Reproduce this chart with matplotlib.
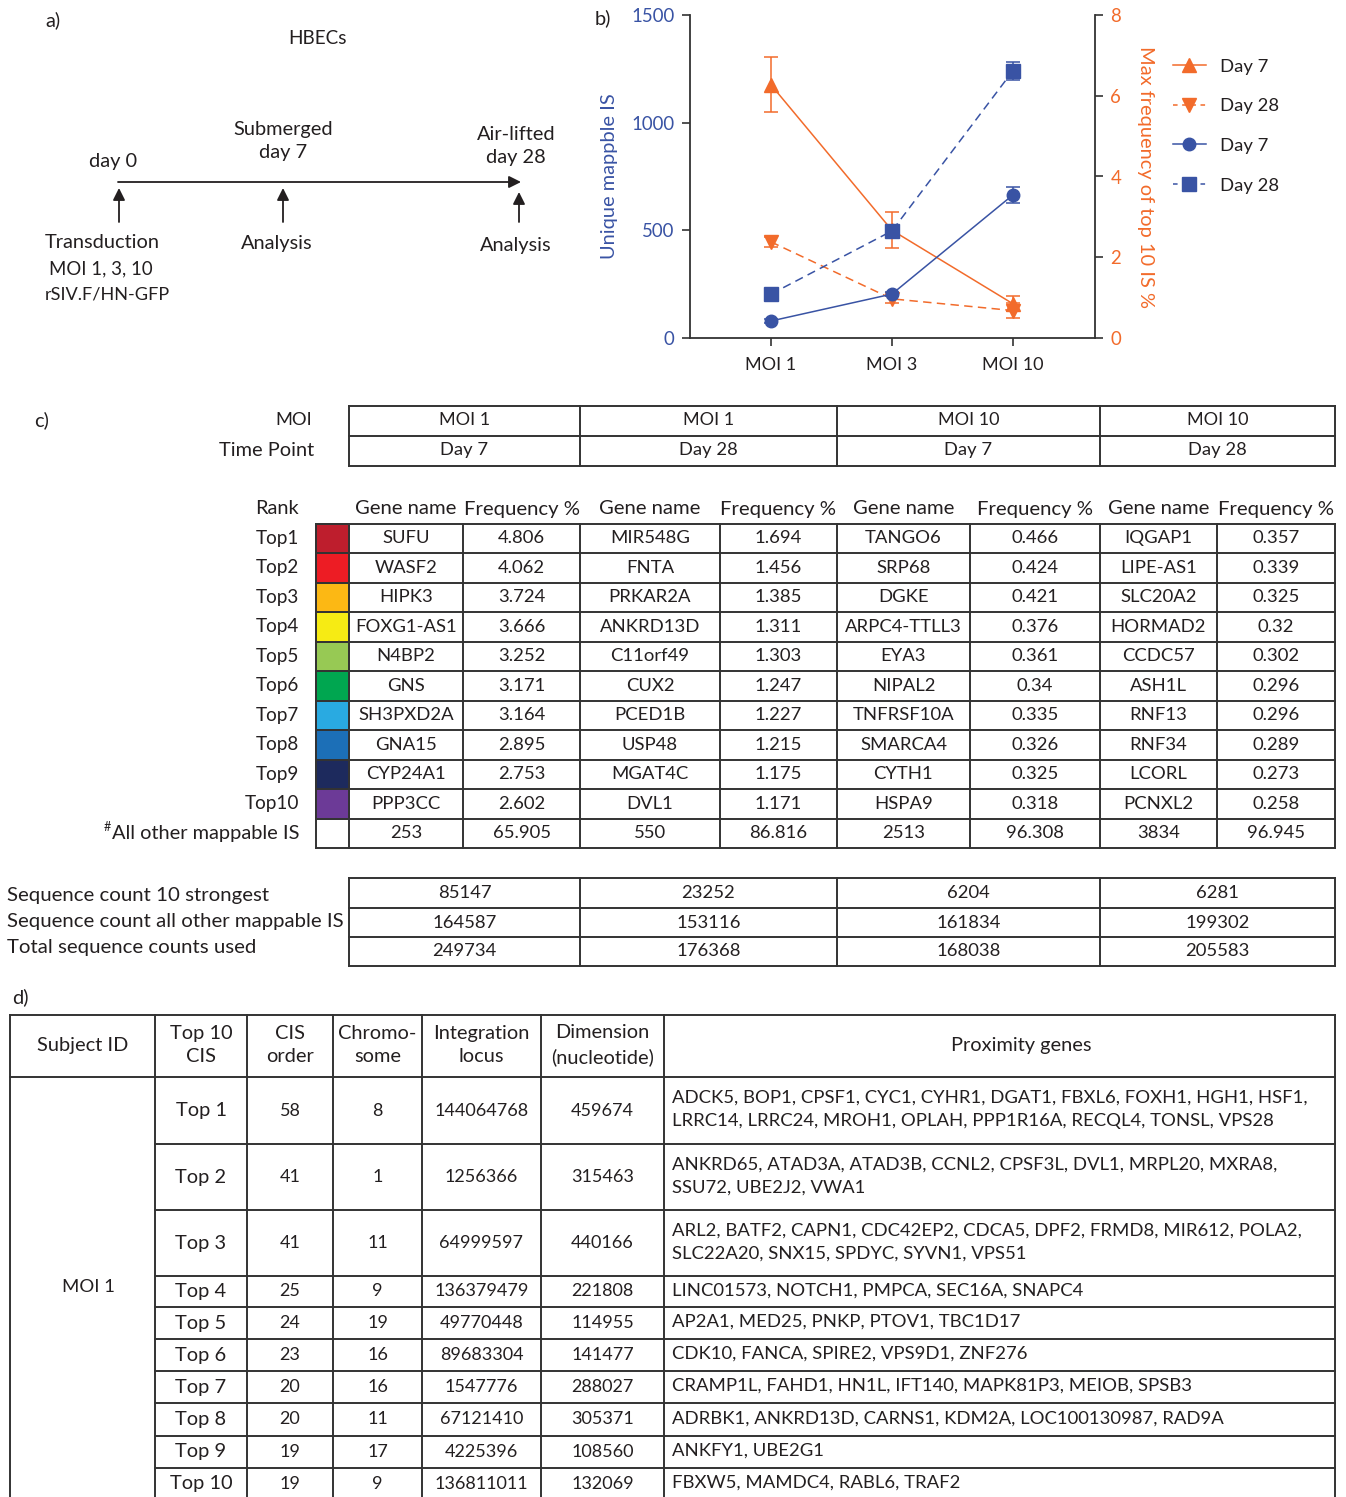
import matplotlib
matplotlib.use("Agg")
import matplotlib.pyplot as plt
from matplotlib.lines import Line2D
import numpy as np

plt.rcParams['font.family'] = ['Lato', 'DejaVu Sans']

# ---------------- data: panel b ----------------
moi_labels = ["MOI 1", "MOI 3", "MOI 10"]
unique_day7 = [79, 204, 664]
unique_day7_err = [8, 10, 35]
unique_day28 = [204, 497, 1240]
unique_day28_err = [10, 12, 40]
maxfreq_day7 = [6.27, 2.67, 0.85]
maxfreq_day7_err = [0.68, 0.45, 0.19]
maxfreq_day28 = [2.38, 0.97, 0.68]
maxfreq_day28_err = [0.12, 0.10, 0.18]
legend_labels = ["Day 7", "Day 28", "Day 7", "Day 28"]

# ---------------- data: panel c ----------------
c_moi = ["MOI 1", "MOI 1", "MOI 10", "MOI 10"]
c_time = ["Day 7", "Day 28", "Day 7", "Day 28"]
ranks = ["Top1", "Top2", "Top3", "Top4", "Top5", "Top6", "Top7", "Top8", "Top9", "Top10"]
rank_colors = ["#be1e2d", "#ed1c24", "#fcb814", "#f6eb14", "#97c954", "#00a650",
               "#29aae1", "#1c6fb7", "#1d2a5d", "#6c3a97"]
genes_moi1_d7 = ["SUFU", "WASF2", "HIPK3", "FOXG1-AS1", "N4BP2", "GNS", "SH3PXD2A", "GNA15", "CYP24A1", "PPP3CC", "253"]
freq_moi1_d7 = ["4.806", "4.062", "3.724", "3.666", "3.252", "3.171", "3.164", "2.895", "2.753", "2.602", "65.905"]
genes_moi1_d28 = ["MIR548G", "FNTA", "PRKAR2A", "ANKRD13D", "C11orf49", "CUX2", "PCED1B", "USP48", "MGAT4C", "DVL1", "550"]
freq_moi1_d28 = ["1.694", "1.456", "1.385", "1.311", "1.303", "1.247", "1.227", "1.215", "1.175", "1.171", "86.816"]
genes_moi10_d7 = ["TANGO6", "SRP68", "DGKE", "ARPC4-TTLL3", "EYA3", "NIPAL2", "TNFRSF10A", "SMARCA4", "CYTH1", "HSPA9", "2513"]
freq_moi10_d7 = ["0.466", "0.424", "0.421", "0.376", "0.361", "0.34", "0.335", "0.326", "0.325", "0.318", "96.308"]
genes_moi10_d28 = ["IQGAP1", "LIPE-AS1", "SLC20A2", "HORMAD2", "CCDC57", "ASH1L", "RNF13", "RNF34", "LCORL", "PCNXL2", "3834"]
freq_moi10_d28 = ["0.357", "0.339", "0.325", "0.32", "0.302", "0.296", "0.296", "0.289", "0.273", "0.258", "96.945"]
seq_labels = ["Sequence count 10 strongest", "Sequence count all other mappable IS", "Total sequence counts used"]
seq_strongest = ["85147", "23252", "6204", "6281"]
seq_other = ["164587", "153116", "161834", "199302"]
seq_total = ["249734", "176368", "168038", "205583"]

# ---------------- data: panel d ----------------
d_headers = ["Subject ID", "Top 10\nCIS", "CIS\norder", "Chromo-\nsome", "Integration\nlocus", "Dimension\n(nucleotide)", "Proximity genes"]
d_top = ["Top 1", "Top 2", "Top 3", "Top 4", "Top 5", "Top 6", "Top 7", "Top 8", "Top 9", "Top 10"]
d_cis_order = ["58", "41", "41", "25", "24", "23", "20", "20", "19", "19"]
d_chrom = ["8", "1", "11", "9", "19", "16", "16", "11", "17", "9"]
d_locus = ["144064768", "1256366", "64999597", "136379479", "49770448", "89683304", "1547776", "67121410", "4225396", "136811011"]
d_dim = ["459674", "315463", "440166", "221808", "114955", "141477", "288027", "305371", "108560", "132069"]
d_genes = [
    "ADCK5, BOP1, CPSF1, CYC1, CYHR1, DGAT1, FBXL6, FOXH1, HGH1, HSF1,\nLRRC14, LRRC24, MROH1, OPLAH, PPP1R16A, RECQL4, TONSL, VPS28",
    "ANKRD65, ATAD3A, ATAD3B, CCNL2, CPSF3L, DVL1, MRPL20, MXRA8,\nSSU72, UBE2J2, VWA1",
    "ARL2, BATF2, CAPN1, CDC42EP2, CDCA5, DPF2, FRMD8, MIR612, POLA2,\nSLC22A20, SNX15, SPDYC, SYVN1, VPS51",
    "LINC01573, NOTCH1, PMPCA, SEC16A, SNAPC4",
    "AP2A1, MED25, PNKP, PTOV1, TBC1D17",
    "CDK10, FANCA, SPIRE2, VPS9D1, ZNF276",
    "CRAMP1L, FAHD1, HN1L, IFT140, MAPK81P3, MEIOB, SPSB3",
    "ADRBK1, ANKRD13D, CARNS1, KDM2A, LOC100130987, RAD9A",
    "ANKFY1, UBE2G1",
    "FBXW5, MAMDC4, RABL6, TRAF2",
]
d_subject = "MOI 1"

# ---------------- figure ----------------
W, H = 1346, 1497
fig = plt.figure(figsize=(W / 100, H / 100), dpi=100)
ax0 = fig.add_axes([0, 0, 1, 1])
ax0.set_xlim(0, W)
ax0.set_ylim(H, 0)
ax0.axis('off')

TXT = '#231f20'
LINE = '#333333'
FS = 14.4     # mixed-case text
FSU = 13.3    # upper-case / numeric text
BLUE = '#3953a4'
ORANGE = '#f26b2b'


def t(x, y, s, ha='center', va='center', fs=FS, **kw):
    return ax0.text(x, y, s, ha=ha, va=va, fontsize=fs, color=TXT, **kw)


def hl(y, x1, x2, lw=1.4):
    ax0.plot([x1, x2], [y, y], color=LINE, lw=lw, solid_capstyle='projecting')


def vl(x, y1, y2, lw=1.4):
    ax0.plot([x, x], [y1, y2], color=LINE, lw=lw, solid_capstyle='projecting')


# ---------------- panel a ----------------
t(45, 20, "a)", ha='left')
t(318, 38, "HBECs", fs=13.6)
ax0.annotate("", xy=(521, 182), xytext=(118, 182),
             arrowprops=dict(arrowstyle='-|>', color=TXT, lw=1.3, mutation_scale=18,
                             shrinkA=0, shrinkB=0))
for xa, y1, y2 in [(119, 222, 188), (283, 222, 188), (519, 222, 192)]:
    ax0.annotate("", xy=(xa, y2), xytext=(xa, y1),
                 arrowprops=dict(arrowstyle='-|>', color=TXT, lw=1.3, mutation_scale=18,
                                 shrinkA=0, shrinkB=0))
t(113, 162, "day 0")
t(283, 141, "Submerged\nday 7", linespacing=1.45)
t(516, 146, "Air-lifted\nday 28", linespacing=1.45)
t(45, 243, "Transduction", ha='left')
t(49, 269, "MOI 1, 3, 10", ha='left', fs=13.4)
t(45, 294, "rSIV.F/HN-GFP", ha='left', fs=13.1)
t(277, 243, "Analysis")
t(516, 246, "Analysis")

# ---------------- panel b ----------------
axL, axR, axT, axB = 690, 1095, 15, 338
ax = fig.add_axes([axL / W, 1 - axB / H, (axR - axL) / W, (axB - axT) / H])
ax2 = ax.twinx()
ax.set_zorder(ax2.get_zorder() + 1)
ax.patch.set_visible(False)
xpos = np.arange(len(moi_labels))

dash = (0, (5.5, 3.5))
ax2.errorbar(xpos, maxfreq_day7, yerr=maxfreq_day7_err, color=ORANGE, lw=1.1, marker='^',
             ms=10, capsize=5, elinewidth=1.1, capthick=1.1)
ax2.errorbar(xpos, maxfreq_day28, yerr=maxfreq_day28_err, color=ORANGE, lw=1.1, marker='v',
             ms=10, capsize=5, elinewidth=1.1, capthick=1.1, linestyle=dash)
ax.errorbar(xpos, unique_day7, yerr=unique_day7_err, color=BLUE, lw=1.1, marker='o',
            ms=9, capsize=5, elinewidth=1.1, capthick=1.1)
ax.errorbar(xpos, unique_day28, yerr=unique_day28_err, color=BLUE, lw=1.1, marker='s',
            ms=10, capsize=5, elinewidth=1.1, capthick=1.1, linestyle=dash)

ax.set_xlim(-0.67, 2.68)
ax.set_ylim(0, 1500)
ax2.set_ylim(0, 8)
ax.set_yticks([0, 500, 1000, 1500])
ax2.set_yticks([0, 2, 4, 6, 8])
ax.set_xticks(xpos)
ax.set_xticklabels(moi_labels)
for a in (ax, ax2):
    a.spines['top'].set_visible(False)
    for s in a.spines.values():
        s.set_color(LINE)
        s.set_linewidth(1.3)
ax2.spines['left'].set_visible(False)
ax2.spines['bottom'].set_visible(False)
ax.spines['right'].set_visible(False)
ax.tick_params(axis='y', colors=BLUE, labelsize=13.4, length=6, width=1.2, direction='out', pad=5)
ax.tick_params(axis='y', color=LINE)
ax.tick_params(axis='x', labelsize=13.0, labelcolor=TXT, color=LINE, length=6, width=1.2, pad=8)
ax2.tick_params(axis='y', colors=ORANGE, labelsize=13.4, length=6, width=1.2, pad=5)
ax2.tick_params(axis='y', color=LINE)
ax.set_ylabel("Unique mappble IS", color=BLUE, fontsize=FS, labelpad=10)
ax2.set_ylabel("Max frequency of top 10 IS %", color=ORANGE, fontsize=FS, rotation=270,
               labelpad=24)

handles = [
    Line2D([], [], color=ORANGE, marker='^', ms=10, lw=1.1),
    Line2D([], [], color=ORANGE, marker='v', ms=10, lw=1.1, linestyle=(0, (3, 3))),
    Line2D([], [], color=BLUE, marker='o', ms=9, lw=1.1),
    Line2D([], [], color=BLUE, marker='s', ms=10, lw=1.1, linestyle=(0, (3, 3))),
]
leg = ax.legend(handles, legend_labels, loc='upper left', bbox_to_anchor=(1156 / W, 1 - 42 / H),
                bbox_transform=fig.transFigure, frameon=False, fontsize=FSU,
                handlelength=1.8, labelspacing=1.28, handletextpad=0.75)
for txt in leg.get_texts():
    txt.set_color(TXT)
t(595, 18, "b)", ha='left')

# ---------------- panel c ----------------
t(34, 420, "c)", ha='left')
colx = [349, 580, 837, 1100, 1335]
# header table
for y in [406, 436, 466]:
    hl(y, colx[0], colx[-1])
for x in colx:
    vl(x, 406, 466)
t(312, 420, "MOI", ha='right', fs=13.2)
t(314, 450, "Time Point", ha='right')
for i in range(4):
    cx = (colx[i] + colx[i + 1]) / 2
    t(cx, 420, c_moi[i], fs=13.0)
    t(cx, 450, c_time[i], fs=13.2)

# main table
subx = [316, 349, 463, 580, 720, 837, 970, 1100, 1217, 1335]
row_top = 523.5
rh = 29.5
nrows = len(ranks) + 1
for i, x in enumerate(subx):
    vl(x, row_top, row_top + nrows * rh)
for r in range(nrows + 1):
    hl(row_top + r * rh, subx[0], subx[-1])
for r, col in enumerate(rank_colors):
    ax0.add_patch(plt.Rectangle((subx[0], row_top + r * rh), subx[1] - subx[0], rh,
                                facecolor=col, edgecolor=LINE, lw=1.4, zorder=1))
t(299, 509, "Rank", ha='right')
hdrs = ["Gene name", "Frequency %"] * 4
for j in range(8):
    t((subx[j + 1] + subx[j + 2]) / 2, 509, hdrs[j], fs=14.6)
columns = [genes_moi1_d7, freq_moi1_d7, genes_moi1_d28, freq_moi1_d28,
           genes_moi10_d7, freq_moi10_d7, genes_moi10_d28, freq_moi10_d28]
for r in range(nrows):
    cy = row_top + (r + 0.5) * rh
    if r < len(ranks):
        t(299, cy, ranks[r], ha='right', fs=13.6)
    for j, colvals in enumerate(columns):
        t((subx[j + 1] + subx[j + 2]) / 2, cy, colvals[r], fs=FSU)
cy_last = row_top + (nrows - 0.5) * rh
lbl = t(299, cy_last, "All other mappable IS", ha='right')
fig.canvas.draw()
bb = lbl.get_window_extent(renderer=fig.canvas.get_renderer())
t(bb.x0 - 1, cy_last - 6, "#", ha='right', fs=9)

# sequence count table
srows = [878, 908, 937, 966]
for y in srows:
    hl(y, colx[0], colx[-1])
for x in colx:
    vl(x, srows[0], srows[-1])
for i, (lab, yy) in enumerate(zip(seq_labels, [896, 922, 948])):
    t(7, yy, lab, ha='left', fs=14.7)
for r, vals in enumerate([seq_strongest, seq_other, seq_total]):
    cy = (srows[r] + srows[r + 1]) / 2
    for j in range(4):
        t((colx[j] + colx[j + 1]) / 2, cy, vals[j], fs=FSU)

# ---------------- panel d ----------------
t(12, 997, "d)", ha='left')
dx = [10, 155, 247, 333, 422, 541, 664, 1335]
hdr_top, hdr_bot = 1015, 1077
drows = [1077, 1144, 1210, 1276, 1307, 1339, 1371, 1403, 1436, 1468, 1500]
hl(hdr_top, dx[0], dx[-1])
hl(hdr_bot, dx[0], dx[-1])
for x in dx:
    vl(x, hdr_top, H + 5)
for y in drows[1:]:
    hl(y, dx[1], dx[-1])
hdr_cx = [(dx[j] + dx[j + 1]) / 2 for j in range(len(dx) - 1)]
hdr_cx[-1] = 1021
for j, h in enumerate(d_headers):
    t(hdr_cx[j], (hdr_top + hdr_bot) / 2 - 1, h, linespacing=1.45)
t(88, 1287, d_subject, fs=FSU)
for r in range(len(d_top)):
    cy = (drows[r] + drows[r + 1]) / 2
    vals = [d_top[r], d_cis_order[r], d_chrom[r], d_locus[r], d_dim[r]]
    for j, v in enumerate(vals):
        t((dx[j + 1] + dx[j + 2]) / 2, cy, v, fs=(FS if j == 0 else 13.0))
    t(672, cy - 1, d_genes[r], ha='left', linespacing=1.55, fs=13.3)

fig.savefig("out.png", dpi=100)
